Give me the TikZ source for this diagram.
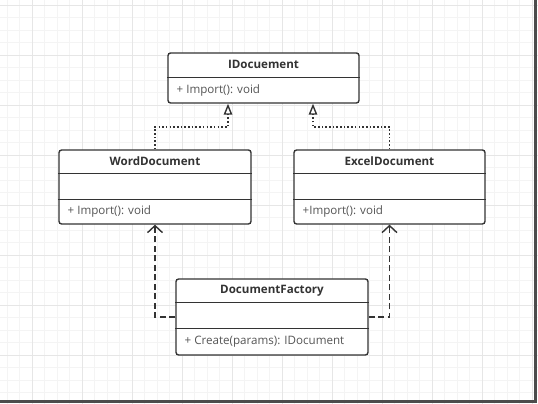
\documentclass[tikz,border=0pt]{standalone}
\usepackage{fontspec}
\setmainfont{Open Sans}
\usetikzlibrary{arrows.meta}
\definecolor{gridminor}{HTML}{F4F4F4}
\definecolor{gridmajor}{HTML}{E6E6E6}
\definecolor{boxgray}{HTML}{333333}
\definecolor{opgray}{HTML}{555555}
\tikzset{
	umlbox/.style={draw=boxgray, fill=white, line width=0.8pt, rounded corners=1.5pt, inner sep=0pt},
	boxline/.style={draw=boxgray, line width=0.8pt},
	classname/.style={inner sep=0pt, text=boxgray, font=\fontsize{6.6}{8}\selectfont\bfseries},
	operation/.style={inner sep=0pt, anchor=west, text=opgray, font=\fontsize{6.6}{8}\selectfont},
	realize/.style={draw=boxgray, line width=0.9pt, dash pattern=on 0.9pt off 1.2pt, -{Triangle[open, length=0.22cm, width=0.17cm, line width=0.8pt]}},
	depend/.style={draw=boxgray, line width=0.8pt, dash pattern=on 0.12cm off 0.07cm, -{Straight Barb[length=0.14cm, width=0.3cm, line width=0.8pt]}}
}
\begin{document}
\begin{tikzpicture}[scale=1]
	
	\useasboundingbox (0,0) rectangle (10.76,8.08);
	
	% sfondo a griglia
	\begin{scope}
		\clip (0,0) rectangle (10.76,8.08);
		\draw[gridminor, line width=0.4pt, shift={(0.64,0.98)}] (-1,-1) grid[step=0.25] (11,8);
		\draw[gridmajor, line width=0.5pt, shift={(0.64,0.98)}] (-1,-1) grid[step=1] (11,8);
	\end{scope}
	\draw[black!70, line width=1.5pt] (0,0.05) -- (10.71,0.05) -- (10.71,8.08);
	
	% interfaccia
	\node[umlbox, minimum width=3.82cm, minimum height=1cm] (idoc) at (5.27,6.52) {};
	\draw[boxline] ([yshift=-0.5cm]idoc.north west) -- ([yshift=-0.5cm]idoc.north east);
	\node[classname] (idocname) at ([yshift=-0.25cm]idoc.north) {IDocuement};
	\node[operation] (idocop) at ([xshift=0.18cm, yshift=-0.76cm]idoc.north west) {+ Import(): void};
	
	% classi concrete
	\node[umlbox, minimum width=3.84cm, minimum height=1.48cm] (word) at (3.10,4.34) {};
	\draw[boxline] ([yshift=-0.48cm]word.north west) -- ([yshift=-0.48cm]word.north east);
	\draw[boxline] ([yshift=-1cm]word.north west) -- ([yshift=-1cm]word.north east);
	\node[classname] (wordname) at ([yshift=-0.24cm]word.north) {WordDocument};
	\node[operation] (wordop) at ([xshift=0.18cm, yshift=-1.24cm]word.north west) {+ Import(): void};
	
	\node[umlbox, minimum width=3.82cm, minimum height=1.48cm] (excel) at (7.79,4.34) {};
	\draw[boxline] ([yshift=-0.48cm]excel.north west) -- ([yshift=-0.48cm]excel.north east);
	\draw[boxline] ([yshift=-1cm]excel.north west) -- ([yshift=-1cm]excel.north east);
	\node[classname] (excelname) at ([yshift=-0.24cm]excel.north) {ExcelDocument};
	\node[operation] (excelop) at ([xshift=0.18cm, yshift=-1.24cm]excel.north west) {+Import(): void};
	
	% factory
	\node[umlbox, minimum width=3.84cm, minimum height=1.52cm] (factory) at (5.44,1.74) {};
	\draw[boxline] ([yshift=-0.48cm]factory.north west) -- ([yshift=-0.48cm]factory.north east);
	\draw[boxline] ([yshift=-1cm]factory.north west) -- ([yshift=-1cm]factory.north east);
	\node[classname] (factoryname) at ([yshift=-0.24cm]factory.north) {DocumentFactory};
	\node[operation] (factoryop) at ([xshift=0.18cm, yshift=-1.26cm]factory.north west) {+ Create(params): IDocument};
	
	% realizzazioni
	\coordinate (lbend) at (4.56,5.54);
	\coordinate (rbend) at (6.26,5.54);
	\draw[realize] (word.north) |- (lbend) -- (lbend |- idoc.south);
	\draw[realize] (excel.north) |- (rbend) -- (rbend |- idoc.south);
	
	% dipendenze
	\draw[depend] (factory.west) -| (word.south);
	\draw[depend] (factory.east) -| (excel.south);
	
\end{tikzpicture}
\end{document}
